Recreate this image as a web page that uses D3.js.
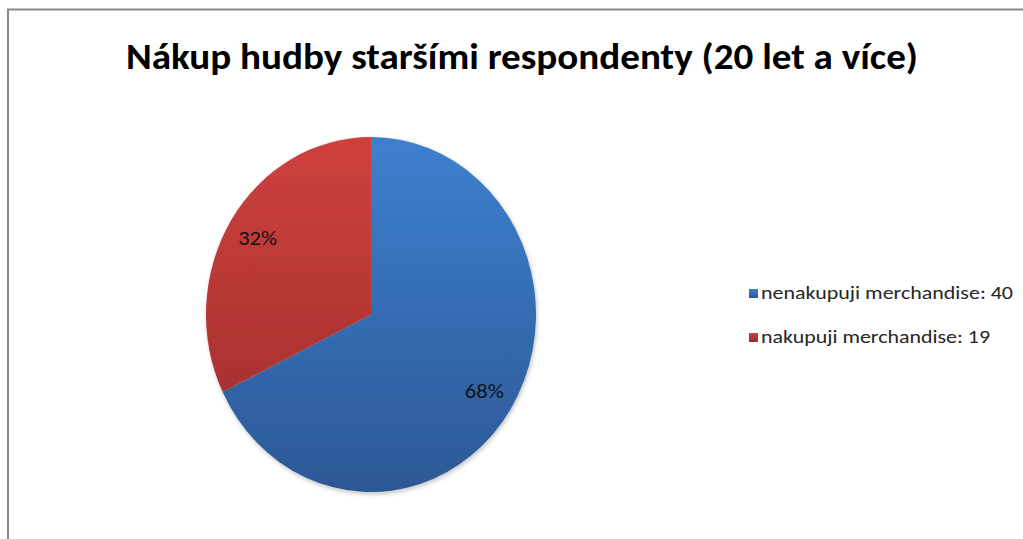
<!DOCTYPE html>
<html>
<head>
<meta charset="utf-8">
<script src="https://cdn.jsdelivr.net/npm/d3@7"></script>
<style>
  html, body { margin: 0; padding: 0; background: #fff; }
  svg { display: block; }
</style>
</head>
<body>
<svg id="chart" width="1023" height="539"></svg>
<script>
// Chart data
const title = "Nákup hudby staršími respondenty (20 let a více)";
const categories = ["nenakupuji merchandise", "nakupuji merchandise"];
const counts = [40, 19];
const percentLabels = ["68%", "32%"];
const colorTop = ["#3d80ce", "#cf413e"];
const colorBottom = ["#2c5896", "#9a2c2a"];

const svg = d3.select("#chart");
const W = 1023, H = 539;
const font = "Carlito, Lato, 'Liberation Sans', sans-serif";

// Outer frame (only top and left edges fall inside the view)
svg.append("path")
  .attr("d", `M8,${H + 2} L8,9.5 L${W + 2},9.5`)
  .attr("fill", "none")
  .attr("stroke", "#8a8a8a")
  .attr("stroke-width", 2);

// Title
svg.append("text")
  .attr("x", 522).attr("y", 69)
  .attr("text-anchor", "middle")
  .attr("font-family", font)
  .attr("font-weight", "bold")
  .attr("font-size", 36)
  .attr("textLength", 792)
  .attr("lengthAdjust", "spacingAndGlyphs")
  .attr("fill", "#000")
  .text(title);

// Pie geometry (slightly stretched vertically)
const cx = 371, cy = 314.5, rx = 165, ry = 177.5;
const defs = svg.append("defs");

categories.forEach((c, i) => {
  const g = defs.append("linearGradient")
    .attr("id", "grad" + i)
    .attr("gradientUnits", "userSpaceOnUse")
    .attr("x1", 0).attr("x2", 0)
    .attr("y1", -ry).attr("y2", ry);
  g.append("stop").attr("offset", "0%").attr("stop-color", colorTop[i]);
  g.append("stop").attr("offset", "100%").attr("stop-color", colorBottom[i]);

  const lg = defs.append("linearGradient")
    .attr("id", "lgrad" + i)
    .attr("x1", 0).attr("x2", 0).attr("y1", 0).attr("y2", 1);
  lg.append("stop").attr("offset", "0%").attr("stop-color", colorTop[i]);
  lg.append("stop").attr("offset", "100%").attr("stop-color", colorBottom[i]);
});

const shadow = defs.append("filter").attr("id", "shadow")
  .attr("x", "-10%").attr("y", "-10%").attr("width", "120%").attr("height", "120%");
shadow.append("feGaussianBlur").attr("in", "SourceAlpha").attr("stdDeviation", 2.5).attr("result", "b");
shadow.append("feOffset").attr("in", "b").attr("dx", 1).attr("dy", 2).attr("result", "o");
shadow.append("feComponentTransfer").attr("in", "o").attr("result", "s")
  .append("feFuncA").attr("type", "linear").attr("slope", 0.25);
const merge = shadow.append("feMerge");
merge.append("feMergeNode").attr("in", "s");
merge.append("feMergeNode").attr("in", "SourceGraphic");

const pie = d3.pie().sort(null).value(d => d);
const arcs = pie(counts);
const arc = d3.arc().innerRadius(0).outerRadius(ry);

const pieG = svg.append("g")
  .attr("transform", `translate(${cx},${cy}) scale(${rx / ry},1)`)
  .attr("filter", "url(#shadow)");

pieG.selectAll("path.slice")
  .data(arcs)
  .join("path")
  .attr("class", "slice")
  .attr("d", arc)
  .attr("fill", (d, i) => `url(#grad${i})`);

// Percentage labels inside slices
const labelArc = d3.arc().innerRadius(ry * 0.81).outerRadius(ry * 0.81);
svg.selectAll("text.pct")
  .data(arcs)
  .join("text")
  .attr("class", "pct")
  .attr("x", d => cx + labelArc.centroid(d)[0] * rx / ry)
  .attr("y", d => cy + labelArc.centroid(d)[1] + 7)
  .attr("text-anchor", "middle")
  .attr("font-family", font)
  .attr("font-size", 20)
  .attr("textLength", 39)
  .attr("lengthAdjust", "spacingAndGlyphs")
  .attr("fill", "#111")
  .text((d, i) => percentLabels[i]);

// Legend
const legendY = d3.scalePoint().domain(categories).range([299, 343]);
const legend = svg.selectAll("g.legend")
  .data(categories)
  .join("g")
  .attr("class", "legend")
  .attr("transform", c => `translate(749,${legendY(c)})`);

legend.append("rect")
  .attr("x", 0).attr("y", -10)
  .attr("width", 9).attr("height", 9)
  .attr("fill", (c, i) => `url(#lgrad${i})`);

const legendWidths = [252, 229];
legend.append("text")
  .attr("x", 12).attr("y", 0)
  .attr("font-family", font)
  .attr("font-size", 19)
  .attr("textLength", (c, i) => legendWidths[i])
  .attr("lengthAdjust", "spacingAndGlyphs")
  .attr("fill", "#262626")
  .text((c, i) => `${c}: ${counts[i]}`);
</script>
</body>
</html>
